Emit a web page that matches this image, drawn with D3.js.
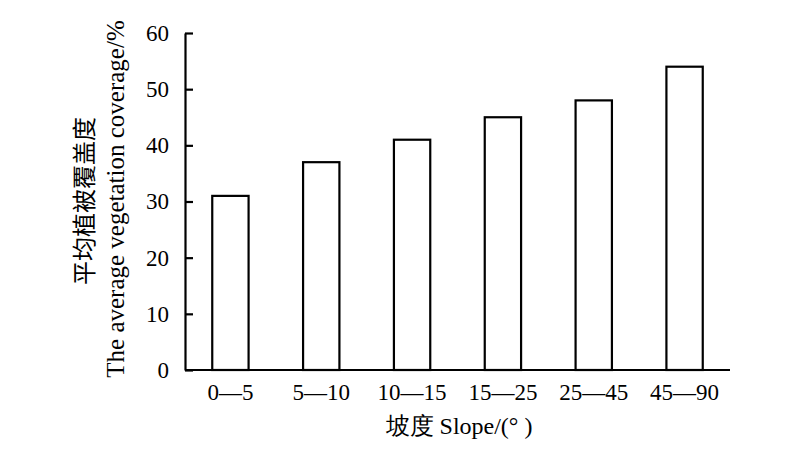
<!DOCTYPE html>
<html><head><meta charset="utf-8">
<script src="https://cdn.jsdelivr.net/npm/d3@7"></script>
<style>body{margin:0;background:#fff}svg{display:block}</style>
</head><body>
<svg id="c" width="800" height="460"></svg>
<script>
const categories = ["0—5", "5—10", "10—15", "15—25", "25—45", "45—90"];
const values = [31, 37, 41, 45, 48, 54];
const yTicks = [0, 10, 20, 30, 40, 50, 60];
const yTitleCn = "平均植被覆盖度";
const yTitleEn = "The average vegetation coverage/%";
const xTitle = "坡度 Slope/(° )";

(function () {
const svg = d3.select("#c");
const font = "'Liberation Serif','Times New Roman',serif";
const mLeft = 185, mRight = 730, mTop = 33, mBottom = 370;

const x = d3.scaleBand().domain(categories).range([mLeft, mRight]).paddingInner(0.6).paddingOuter(0.3);
const y = d3.scaleLinear().domain([0, 60]).range([mBottom, mTop]);

svg.selectAll("rect.bar").data(values).enter().append("rect")
  .attr("class", "bar")
  .attr("x", (d, i) => x(categories[i]))
  .attr("y", d => y(d))
  .attr("width", x.bandwidth())
  .attr("height", d => y(0) - y(d))
  .attr("fill", "#fff").attr("stroke", "#000").attr("stroke-width", 2.2);

const yAxis = svg.append("g").attr("transform", `translate(${mLeft},0)`)
  .call(d3.axisLeft(y).tickValues(yTicks).tickSizeInner(-8).tickSizeOuter(0).tickPadding(16));
yAxis.select(".domain").attr("stroke-width", 2.2);
yAxis.selectAll(".tick line").attr("stroke-width", 2.2);
yAxis.selectAll("text").attr("font-family", font).attr("font-size", 23).attr("fill", "#000");

const xAxis = svg.append("g").attr("transform", `translate(0,${mBottom})`)
  .call(d3.axisBottom(x).tickSize(0).tickPadding(14));
xAxis.select(".domain").attr("stroke-width", 2.2).attr("d", `M${mLeft},0H${mRight}`);
xAxis.selectAll("text").attr("font-family", font).attr("font-size", 23).attr("fill", "#000");

svg.append("text").attr("transform", `translate(93,201) rotate(-90)`)
  .attr("text-anchor", "middle").attr("font-family", "'Noto Sans CJK SC',serif")
  .attr("font-size", 24).text(yTitleCn);
svg.append("text").attr("transform", `translate(124,199) rotate(-90)`)
  .attr("text-anchor", "middle").attr("font-family", font)
  .attr("font-size", 25).text(yTitleEn);
svg.append("text").attr("x", 459).attr("y", 434)
  .attr("text-anchor", "middle").attr("font-family", font)
  .attr("font-size", 24).text(xTitle);
})();
</script>
</body></html>
